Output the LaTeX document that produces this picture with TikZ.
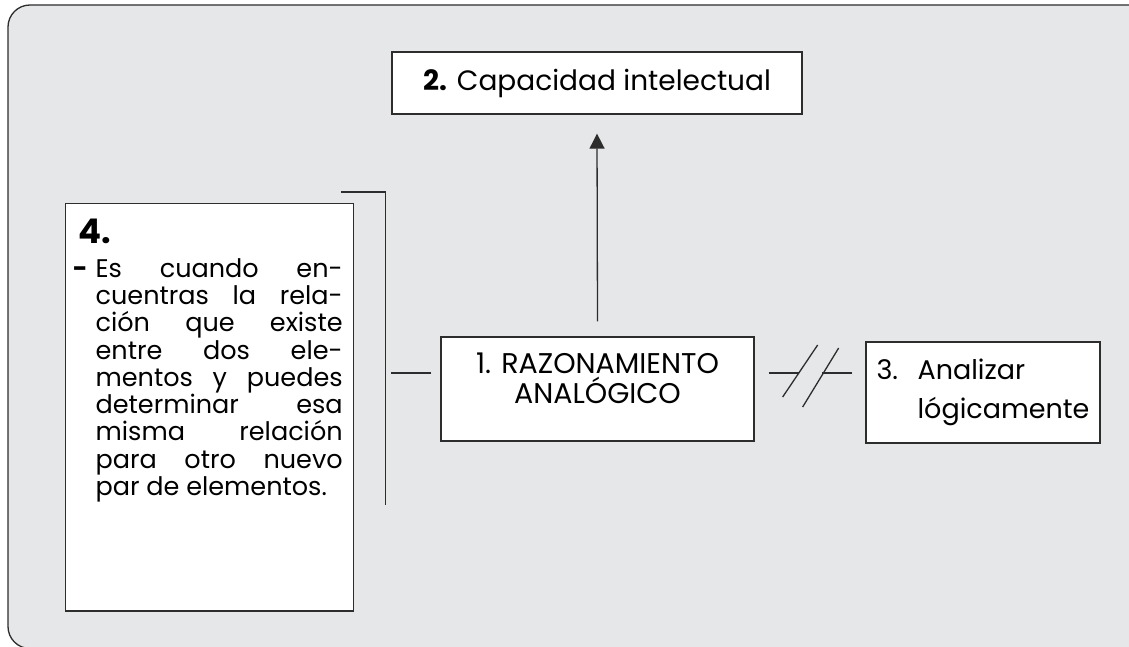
\documentclass[tikz,border=0pt]{standalone}
\usepackage{fontspec}
\setmainfont{Poppins}
\usetikzlibrary{arrows.meta, positioning, calc}
\definecolor{fondogris}{RGB}{230,231,232}
\definecolor{lineagris}{RGB}{45,45,45}

\begin{document}
\begin{tikzpicture}[x=1pt, y=-1pt,
                caja/.style={draw=lineagris, line width=1.3pt, fill=white,
                    inner sep=0pt, align=center},
                linea/.style={draw=lineagris, line width=1.3pt},
                flecha/.style={linea, -{Triangle[width=15pt, length=15pt]}}
            ]
                \useasboundingbox (0,0) rectangle (1129,647);
                % marco gris
                \draw[linea, fill=fondogris, rounded corners=22pt]
                    (1140,5) -- (8,5) -- (8,648.5) -- (1140,648.5);
                % cajas
                \node[caja, minimum width=410, minimum height=62,
                    font=\fontsize{28}{30}\selectfont] (cap) at (597,83)
                    {\textbf{2.} Capacidad intelectual};
                \node[caja, minimum width=313, minimum height=104, text depth=22pt,
                    font=\fontsize{28.5}{30}\selectfont] (raz) at (597.5,389)
                    {1. RAZONAMIENTO\\ANALÓGICO};
                \node[caja, minimum width=234, minimum height=101, align=left,
                    font=\fontsize{27}{39}\selectfont] (ana) at (983,392.5)
                    {\makebox[41pt][l]{3.}Analizar\\\hspace*{41pt}lógicamente};
                \node[caja, anchor=north west, text width=266, align=justify,
                    inner xsep=11pt, inner ysep=15pt, text depth=353pt] (nota) at (65,203)
                    {\fontsize{25.5}{27.3}\selectfont\leftskip=19pt\noindent
                     \hspace*{-17pt}{\fontsize{34}{34}\selectfont\bfseries 4.}\\[6.7pt]
                     \llap{\textbf{-}\hspace{8pt}}Es cuando en-\linebreak
                     cuentras la rela-\linebreak
                     ción que existe\linebreak
                     entre dos ele-\linebreak
                     mentos y puedes\linebreak
                     determinar esa\linebreak
                     misma relación\linebreak
                     para otro nuevo\linebreak
                     par de elementos.\par};
                % conectores
                \draw[flecha] ($(raz.north)+(0,-15)$) -- ($(cap.south)+(0,19)$);
                \draw[linea] ($(raz.west)+(-9,-16)$) -- ++(-40,0);
                \draw[linea] ($(raz.east)+(14,-16)$) -- ++(30,0);
                \draw[linea] ($(ana.west)+(-13,-19.5)$) -- ++(-30,0);
                \draw[linea] ($(raz.east)+(28,8)$) -- ++(35,-52);
                \draw[linea] ($(raz.east)+(48,18)$) -- ++(36,-59);
                \draw[linea] ($(nota.north east)+(-13,-11)$) -- ++(44,0) -- ++(0,313);
            \end{tikzpicture}
\end{document}
